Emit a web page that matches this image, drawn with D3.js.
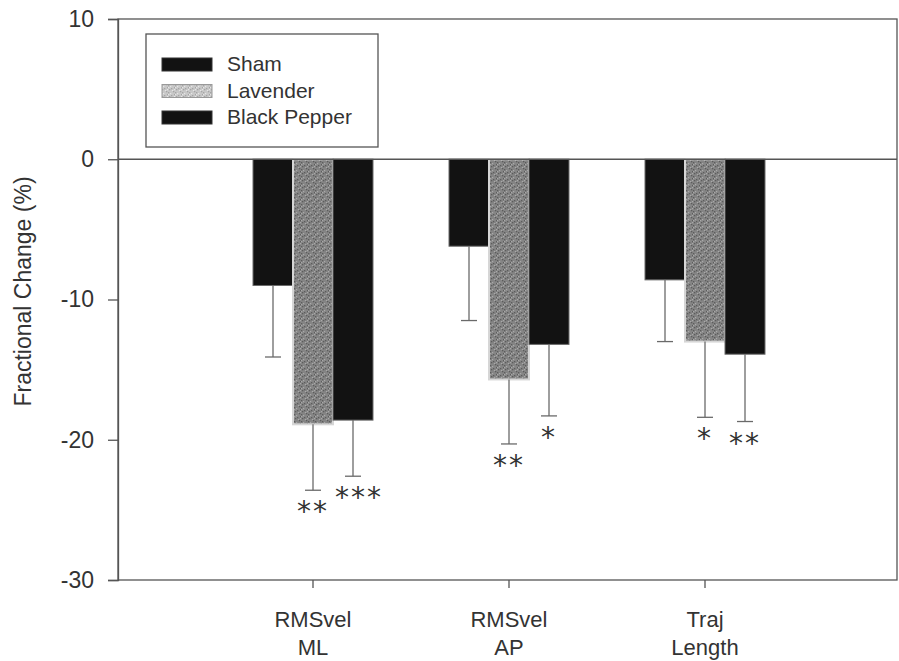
<!DOCTYPE html>
<html>
<head>
<meta charset="utf-8">
<script src="https://cdn.jsdelivr.net/npm/d3@7"></script>
<style>
  html, body { margin: 0; padding: 0; background: #fff; }
  svg { display: block; }
  text { font-family: "Liberation Sans", Arial, sans-serif; fill: #333; }
</style>
</head>
<body>
<svg id="chart" width="899" height="661"></svg>
<script>
// Postural sway measures: fractional change (%) per treatment
const categories = ["RMSvel ML", "RMSvel AP", "Traj Length"];
const categoryLines = [["RMSvel", "ML"], ["RMSvel", "AP"], ["Traj", "Length"]];
const seriesNames = ["Sham", "Lavender", "Black Pepper"];

const shamValues = [-9.0, -6.2, -8.6];
const shamErrors = [5.1, 5.3, 4.4];
const lavenderValues = [-18.9, -15.7, -13.0];
const lavenderErrors = [4.7, 4.6, 5.4];
const pepperValues = [-18.6, -13.2, -13.9];
const pepperErrors = [4.0, 5.1, 4.8];

const shamStars = ["", "", ""];
const lavenderStars = ["**", "**", "*"];
const pepperStars = ["***", "*", "**"];

const yTicks = [10, 0, -10, -20, -30];

const seriesValues = [shamValues, lavenderValues, pepperValues];
const seriesErrors = [shamErrors, lavenderErrors, pepperErrors];
const seriesStars = [shamStars, lavenderStars, pepperStars];

const rows = [];
categories.forEach((c, i) => {
  seriesNames.forEach((s, j) => {
    rows.push({ category: c, series: s, value: seriesValues[j][i],
                err: seriesErrors[j][i], stars: seriesStars[j][i] });
  });
});

const svg = d3.select("#chart");
const plot = { left: 118, right: 897, top: 19, bottom: 580 };

const y = d3.scaleLinear().domain([-30, 10]).range([plot.bottom, plot.top]);
const x = d3.scaleBand().domain(categories).range([215, 803]).padding(0);
const xSub = d3.scaleBand().domain(seriesNames).range([0, 120]).padding(0);
const groupOffset = (x.bandwidth() - 120) / 2;

// speckled grey texture for the Lavender bars
const defs = svg.append("defs");
function speckle(id, base, dark, light) {
  const pat = defs.append("pattern").attr("id", id)
    .attr("width", 7).attr("height", 7).attr("patternUnits", "userSpaceOnUse");
  pat.append("rect").attr("width", 7).attr("height", 7).attr("fill", base);
  [[0, 1], [3, 4], [5, 0], [1, 5], [6, 3]].forEach(([a, b]) => pat.append("rect")
    .attr("x", a).attr("y", b).attr("width", 1.3).attr("height", 1.3).attr("fill", dark));
  [[2, 2], [4, 6], [6, 5], [0, 3]].forEach(([a, b]) => pat.append("rect")
    .attr("x", a).attr("y", b).attr("width", 1.2).attr("height", 1.2).attr("fill", light));
}
speckle("speckle", "#858585", "#5c5c5c", "#a9a9a9");
speckle("speckleLight", "#c8c8c8", "#a5a5a5", "#e6e6e6");

const fills = { "Sham": "#121212", "Lavender": "url(#speckle)", "Black Pepper": "#121212" };
const strokes = { "Sham": "#6a6a6a", "Lavender": "#d6d6d6", "Black Pepper": "#6a6a6a" };
const strokeW = { "Sham": 1, "Lavender": 2, "Black Pepper": 1 };

// frame
svg.append("rect")
  .attr("x", plot.left).attr("y", plot.top)
  .attr("width", plot.right - plot.left).attr("height", plot.bottom - plot.top)
  .attr("fill", "none").attr("stroke", "#555").attr("stroke-width", 1.3);

// y axis
const yAxis = d3.axisLeft(y).tickValues(yTicks).tickSize(10).tickPadding(14)
  .tickFormat(d => d < 0 ? "-" + Math.abs(d) : String(d));
const gy = svg.append("g").attr("transform", `translate(${plot.left},0)`).call(yAxis);
gy.select(".domain").attr("stroke", "#555").attr("stroke-width", 1.3);
gy.selectAll(".tick line").attr("stroke", "#555").attr("stroke-width", 1.3);
gy.selectAll(".tick text").style("font-size", "23px")
  .style("font-family", "'Liberation Sans', Arial, sans-serif").attr("fill", "#333");

// x axis (category ticks)
const xAxis = d3.axisBottom(x).tickSize(8).tickFormat("");
const gx = svg.append("g").attr("transform", `translate(0,${plot.bottom})`).call(xAxis);
gx.select(".domain").remove();
gx.selectAll(".tick line").attr("stroke", "#555").attr("stroke-width", 1.3);

categories.forEach((c, i) => {
  const cx = x(c) + x.bandwidth() / 2;
  categoryLines[i].forEach((line, k) => {
    svg.append("text").attr("x", cx).attr("y", 627 + k * 28)
      .attr("text-anchor", "middle").style("font-size", "22px").text(line);
  });
});

// y axis title
svg.append("text")
  .attr("transform", `translate(31,${(plot.top + plot.bottom) / 2 - 8}) rotate(-90)`)
  .attr("text-anchor", "middle").style("font-size", "23px")
  .text("Fractional Change (%)");

// bars
const barX = d => x(d.category) + groupOffset + xSub(d.series);
const bw = xSub.bandwidth();

const bars = svg.append("g");
bars.selectAll("rect").data(rows).join("rect")
  .attr("x", barX)
  .attr("y", d => y(Math.max(0, d.value)))
  .attr("width", bw)
  .attr("height", d => Math.abs(y(d.value) - y(0)))
  .attr("fill", d => fills[d.series])
  .attr("stroke", d => strokes[d.series])
  .attr("stroke-width", d => strokeW[d.series]);

// zero line
svg.append("line")
  .attr("x1", plot.left).attr("x2", plot.right)
  .attr("y1", y(0)).attr("y2", y(0))
  .attr("stroke", "#555").attr("stroke-width", 1.3);

// one-sided (downward) error bars
const eb = svg.append("g").attr("stroke", "#6a6a6a").attr("stroke-width", 1.3);
rows.forEach(d => {
  const cx = barX(d) + bw / 2;
  const y0 = y(d.value), y1 = y(d.value - d.err);
  eb.append("line").attr("x1", cx).attr("x2", cx).attr("y1", y0).attr("y2", y1);
  eb.append("line").attr("x1", cx - 8).attr("x2", cx + 8).attr("y1", y1).attr("y2", y1);
});

// significance markers
rows.filter(d => d.stars).forEach(d => {
  const cx = barX(d) + bw / 2 + (d.stars.length === 3 ? 6 : 0);
  svg.append("text")
    .attr("x", cx).attr("y", y(d.value - d.err) + 31)
    .attr("text-anchor", "middle")
    .style("font-size", "28px").style("letter-spacing", "2px")
    .style("font-family", "'DejaVu Sans', sans-serif")
    .attr("fill", "#555")
    .text(d.stars);
});

// legend
const lg = svg.append("g");
lg.append("rect").attr("x", 146).attr("y", 34).attr("width", 232).attr("height", 113)
  .attr("fill", "#fff").attr("stroke", "#555").attr("stroke-width", 1.3);
seriesNames.forEach((s, i) => {
  const yy = 58 + i * 26.5;
  lg.append("rect").attr("x", 162).attr("y", yy).attr("width", 50).attr("height", 13)
    .attr("fill", s === "Lavender" ? "url(#speckleLight)" : "#121212")
    .attr("stroke", s === "Lavender" ? "#999" : "#333").attr("stroke-width", 1);
  lg.append("text").attr("x", 227).attr("y", yy + 13)
    .style("font-size", "21px").text(s);
});
</script>
</body>
</html>
